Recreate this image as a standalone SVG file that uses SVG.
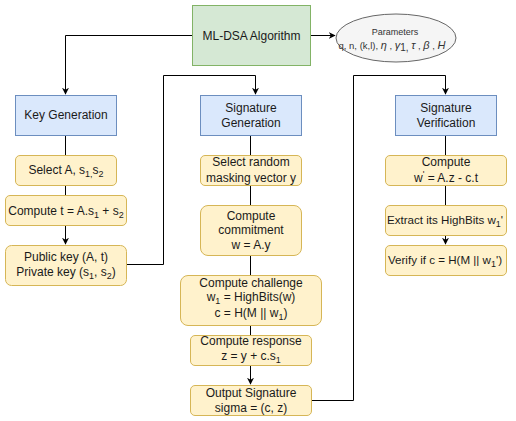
<svg xmlns="http://www.w3.org/2000/svg" width="516" height="421" viewBox="0 0 516 421">
<style>
text{font-family:"Liberation Sans",Arial,sans-serif;font-size:12px;fill:#1a1a1a;text-anchor:middle}
.g{fill:#d5e8d4;stroke:#82b366}
.b{fill:#dae8fc;stroke:#6c8ebf}
.y{fill:#fff2cc;stroke:#d6b656}
.e{fill:#f5f5f5;stroke:#666666}
.c{fill:none;stroke:#000;stroke-width:1}
.s{font-size:9px}
.p{fill:#333333;font-size:9.5px}
.gk{font-size:11px;font-style:italic}
</style>
<defs>
<marker id="a" viewBox="0 0 10 10" refX="9" refY="5" markerWidth="7" markerHeight="7" orient="auto" markerUnits="userSpaceOnUse">
<path d="M0,0 L10,5 L0,10 L3,5 Z" fill="#000"/>
</marker>
</defs>
<rect width="516" height="421" fill="#fff"/>
<g id="connectors">
<path class="c" d="M192.5,35.5 H65.5 V94" marker-end="url(#a)"/>
<path class="c" d="M310.5,35.5 H335" marker-end="url(#a)"/>
<path class="c" d="M65.5,135.5 V155.5"/>
<path class="c" d="M65.5,185.5 V195.5"/>
<path class="c" d="M65.5,225.5 V244" marker-end="url(#a)"/>
<path class="c" d="M126.5,264.5 H163.5 V75.5 H255.5 V94" marker-end="url(#a)"/>
<path class="c" d="M250.5,135.5 V155.5"/>
<path class="c" d="M250.5,185.5 V205.5"/>
<path class="c" d="M250.5,255.5 V275.5"/>
<path class="c" d="M250.5,325.5 V335.5"/>
<path class="c" d="M250.5,365.5 V384" marker-end="url(#a)"/>
<path class="c" d="M311.5,400.5 H353.5 V75.5 H445.5 V94" marker-end="url(#a)"/>
<path class="c" d="M445.5,135.5 V155.5"/>
<path class="c" d="M445.5,185.5 V205.5"/>
<path class="c" d="M445.5,235.5 V244" marker-end="url(#a)"/>
</g>
<g id="ml-dsa">
<rect class="g" x="192.5" y="5.5" width="118" height="60"/>
<text x="251.5" y="39.5">ML-DSA Algorithm</text>
</g>
<g id="parameters">
<ellipse class="e" cx="396" cy="38" rx="60" ry="24"/>
<text class="p" x="395" y="35" style="font-size:9px">Parameters</text>
<text class="p" x="392" y="49">q, n, (k,l), <tspan class="gk">η</tspan> , <tspan class="gk">γ</tspan><tspan style="font-size:10px" dy="2">1,</tspan><tspan dy="-2">  </tspan><tspan class="gk">τ</tspan> ,  <tspan class="gk">β</tspan> , <tspan class="gk">H</tspan></text>
</g>
<g id="keygen">
<rect class="b" x="15.5" y="95.5" width="101" height="40"/>
<text x="66" y="119">Key Generation</text>
</g>
<g id="select-a">
<rect class="y" x="15.5" y="155.5" width="101" height="30" rx="4.5"/>
<text x="66" y="174">Select A, s<tspan class="s" dy="3">1,</tspan><tspan dy="-3">s</tspan><tspan class="s" dy="3">2</tspan></text>
</g>
<g id="compute-t">
<rect class="y" x="5.5" y="195.5" width="121" height="30" rx="4.5"/>
<text x="66" y="215">Compute t = A.s<tspan class="s" dy="3">1</tspan><tspan dy="-3"> + s</tspan><tspan class="s" dy="3">2</tspan></text>
</g>
<g id="keys">
<rect class="y" x="5.5" y="245.5" width="121" height="40" rx="6"/>
<text x="66" y="261">Public key (A, t)</text>
<text x="66" y="276">Private key (s<tspan class="s" dy="3">1</tspan><tspan dy="-3">, s</tspan><tspan class="s" dy="3">2</tspan><tspan dy="-3">)</tspan></text>
</g>
<g id="siggen">
<rect class="b" x="200.5" y="95.5" width="101" height="40"/>
<text x="251" y="112">Signature</text>
<text x="251" y="127">Generation</text>
</g>
<g id="select-y">
<rect class="y" x="200.5" y="155.5" width="101" height="30" rx="4.5"/>
<text x="251" y="166">Select random</text>
<text x="251" y="182">masking vector y</text>
</g>
<g id="commitment">
<rect class="y" x="200.5" y="205.5" width="101" height="50" rx="7.5"/>
<text x="251" y="220">Compute</text>
<text x="251" y="234">commitment</text>
<text x="251" y="249">w = A.y</text>
</g>
<g id="challenge">
<rect class="y" x="180.5" y="275.5" width="141" height="50" rx="7.5"/>
<text x="251" y="287">Compute challenge</text>
<text x="251" y="301">w<tspan class="s" dy="3">1</tspan><tspan dy="-3"> = HighBits(w)</tspan></text>
<text x="251" y="317">c = H(M || w<tspan class="s" dy="3">1</tspan><tspan dy="-3">)</tspan></text>
</g>
<g id="response">
<rect class="y" x="190.5" y="335.5" width="121" height="30" rx="4.5"/>
<text x="251" y="345">Compute response</text>
<text x="251" y="360">z = y + c.s<tspan class="s" dy="3">1</tspan></text>
</g>
<g id="output">
<rect class="y" x="190.5" y="385.5" width="121" height="30" rx="4.5"/>
<text x="251" y="397">Output Signature</text>
<text x="251" y="412">sigma = (c, z)</text>
</g>
<g id="sigver">
<rect class="b" x="395.5" y="95.5" width="101" height="40"/>
<text x="446" y="112">Signature</text>
<text x="446" y="127">Verification</text>
</g>
<g id="compute-w">
<rect class="y" x="385.5" y="155.5" width="121" height="30" rx="4.5"/>
<text x="446" y="166">Compute</text>
<text x="446" y="182">w<tspan class="s" dy="-5">'</tspan><tspan dy="5"> = A.z - c.t</tspan></text>
</g>
<g id="extract">
<rect class="y" x="385.5" y="205.5" width="121" height="30" rx="4.5"/>
<text x="445" y="224" style="font-size:11.6px">Extract its HighBits w<tspan class="s" dy="3">1</tspan><tspan dy="-3">'</tspan></text>
</g>
<g id="verify">
<rect class="y" x="385.5" y="245.5" width="121" height="30" rx="4.5"/>
<text x="445" y="264" style="font-size:11.6px">Verify if c = H(M || w<tspan class="s" dy="3">1</tspan><tspan dy="-3">')</tspan></text>
</g>
</svg>
